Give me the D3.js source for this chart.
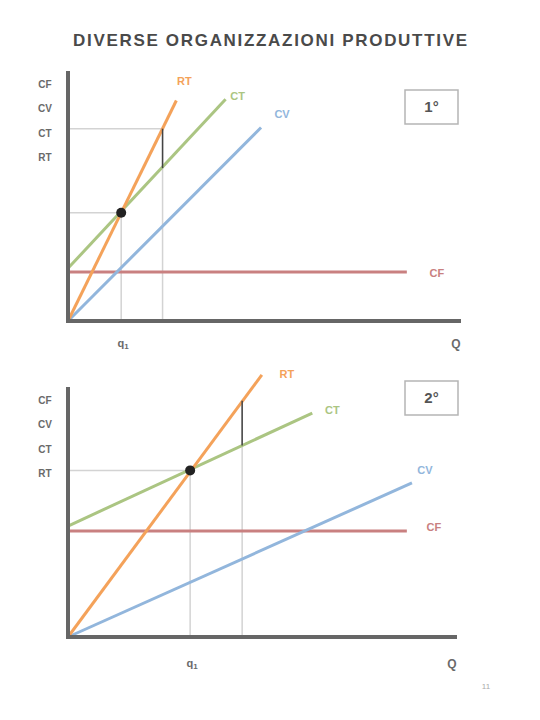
<!DOCTYPE html>
<html><head><meta charset="utf-8">
<script src="https://cdn.jsdelivr.net/npm/d3@7"></script>
<style>html,body{margin:0;padding:0;background:#fff;}svg{display:block;}</style>
</head><body>
<script>
// ---- data (units are arbitrary) ----
const titleText = "DIVERSE ORGANIZZAZIONI PRODUTTIVE";
const seriesNames = ["RT", "CT", "CV", "CF"];
const yLabels = ["CF", "CV", "CT", "RT"];
const panelTags = ["1°", "2°"];
// panel 1 lines: [Q, value] endpoints
const p1RT = [[0, 0], [2.75, 9.0]];
const p1CT = [[0, 2.15], [4.0, 9.05]];
const p1CV = [[0, 0], [4.9, 7.9]];
const p1CF = [[0, 2.0], [8.6, 2.0]];
const p1Break = [1.35, 4.42];          // q1, value at breakeven
const p1Q2 = [2.4, 7.85, 6.24];        // Q, RT, CT
// panel 2 lines
const p2RT = [[0, 0], [4.92, 10.7]];
const p2CT = [[0, 4.53], [6.2, 9.14]];
const p2CV = [[0, 0], [8.73, 6.29]];
const p2CF = [[0, 4.33], [8.6, 4.33]];
const p2Break = [3.1, 6.8];
const p2Q2 = [4.42, 9.64, 7.82];

const colors = {RT: "#f4a25a", CT: "#abc582", CV: "#92b6dc", CF: "#c98080"};

const W = 540, H = 720;
const svg = d3.select("body").append("svg").attr("width", W).attr("height", H);

svg.append("text").attr("x", 270).attr("y", 46).attr("text-anchor", "middle")
  .attr("font-family", "Liberation Sans, Arial, sans-serif").attr("font-weight", "bold")
  .attr("font-size", 17).attr("fill", "#4a4a4a").attr("textLength", 394)
  .text(titleText);

function panel(cfg) {
  const x = d3.scaleLinear().domain([0, 10]).range([68, 462]);
  const y = d3.scaleLinear().domain([0, 10]).range([cfg.y0, cfg.y0 - 245]);
  const g = svg.append("g");
  const line = d3.line().x(d => x(d[0])).y(d => y(d[1]));
  const grey = "#d3d3d3";

  // reference lines
  const [bq, bv] = cfg.brk;
  g.append("line").attr("x1", x(0)).attr("x2", x(bq)).attr("y1", y(bv)).attr("y2", y(bv))
    .attr("stroke", grey).attr("stroke-width", 1.5);
  g.append("line").attr("x1", x(bq)).attr("x2", x(bq)).attr("y1", y(bv)).attr("y2", y(0))
    .attr("stroke", grey).attr("stroke-width", 1.5);
  const [q2, rt2, ct2] = cfg.q2;
  g.append("line").attr("x1", x(q2)).attr("x2", x(q2)).attr("y1", y(rt2)).attr("y2", y(0))
    .attr("stroke", grey).attr("stroke-width", 1.5);
  if (cfg.q2h) {
    g.append("line").attr("x1", x(0)).attr("x2", x(q2)).attr("y1", y(rt2)).attr("y2", y(rt2))
      .attr("stroke", grey).attr("stroke-width", 1.5);
  }

  // series lines
  const order = ["CF", "CV", "CT", "RT"];
  order.forEach(k => {
    g.append("path").datum(cfg.lines[k]).attr("d", line).attr("fill", "none")
      .attr("stroke", colors[k]).attr("stroke-width", 3);
  });

  // profit segment
  g.append("line").attr("x1", x(q2)).attr("x2", x(q2)).attr("y1", y(rt2)).attr("y2", y(ct2))
    .attr("stroke", "#444").attr("stroke-width", 1.5);

  // breakeven dot
  g.append("circle").attr("cx", x(bq)).attr("cy", y(bv)).attr("r", 5).attr("fill", "#222");

  // axes
  g.append("line").attr("x1", x(0)).attr("x2", x(0)).attr("y1", cfg.y0 + 2).attr("y2", cfg.y0 - 250)
    .attr("stroke", "#666").attr("stroke-width", 4);
  g.append("line").attr("x1", x(0) - 2).attr("x2", cfg.xEnd).attr("y1", y(0)).attr("y2", y(0))
    .attr("stroke", "#666").attr("stroke-width", 4);

  // series labels
  seriesNames.forEach(k => {
    const pts = cfg.lines[k];
    const e = pts[pts.length - 1];
    const off = cfg.labelOff[k];
    g.append("text").attr("x", x(e[0]) + off[0]).attr("y", y(e[1]) + off[1])
      .attr("text-anchor", "middle").attr("dominant-baseline", "middle")
      .attr("font-family", "Liberation Sans, Arial, sans-serif").attr("font-weight", "bold")
      .attr("font-size", 11).attr("fill", colors[k]).text(k);
  });

  // y labels
  yLabels.forEach((t, i) => {
    g.append("text").attr("x", 45).attr("y", cfg.y0 - 236 + i * 24.5)
      .attr("text-anchor", "middle").attr("dominant-baseline", "middle")
      .attr("font-family", "Liberation Sans, Arial, sans-serif").attr("font-weight", "bold")
      .attr("font-size", 10).attr("fill", "#6a6a6a").text(t);
  });

  // x labels
  const ql = g.append("text").attr("x", x(bq) + 2).attr("y", cfg.y0 + cfg.xlabDy)
    .attr("text-anchor", "middle").attr("dominant-baseline", "middle")
    .attr("font-family", "Liberation Sans, Arial, sans-serif").attr("font-weight", "bold")
    .attr("font-size", 11).attr("fill", "#6a6a6a");
  ql.append("tspan").text("q");
  ql.append("tspan").attr("font-size", 8).attr("dy", 3).text("1");
  g.append("text").attr("x", cfg.xEnd - 5).attr("y", cfg.y0 + cfg.xlabDy + 1)
    .attr("text-anchor", "middle").attr("dominant-baseline", "middle")
    .attr("font-family", "Liberation Sans, Arial, sans-serif").attr("font-weight", "bold")
    .attr("font-size", 12).attr("fill", "#6a6a6a").text("Q");

  // tag box
  g.append("rect").attr("x", 405).attr("y", cfg.boxY).attr("width", 53).attr("height", 34)
    .attr("fill", "#fff").attr("stroke", "#b5b5b5").attr("stroke-width", 1.5);
  g.append("text").attr("x", 431.5).attr("y", cfg.boxY + 18)
    .attr("text-anchor", "middle").attr("dominant-baseline", "middle")
    .attr("font-family", "Liberation Sans, Arial, sans-serif").attr("font-weight", "bold")
    .attr("font-size", 15).attr("fill", "#555").text(cfg.tag);
}

panel({
  y0: 321, xEnd: 461, boxY: 90, tag: panelTags[0], brk: p1Break, q2: p1Q2, q2h: true, xlabDy: 23,
  lines: {RT: p1RT, CT: p1CT, CV: p1CV, CF: p1CF},
  labelOff: {RT: [8, -18], CT: [12, -2], CV: [21, -12], CF: [30, 2]}
});
panel({
  y0: 637, xEnd: 457, boxY: 381, tag: panelTags[1], brk: p2Break, q2: p2Q2, q2h: false, xlabDy: 27,
  lines: {RT: p2RT, CT: p2CT, CV: p2CV, CF: p2CF},
  labelOff: {RT: [25, 0], CT: [20, -2], CV: [13, -12], CF: [27, -3]}
});

svg.append("text").attr("x", 486).attr("y", 689).attr("text-anchor", "middle")
  .attr("font-family", "Liberation Sans, Arial, sans-serif").attr("font-size", 8)
  .attr("fill", "#aaa").text("11");
</script>
</body></html>
